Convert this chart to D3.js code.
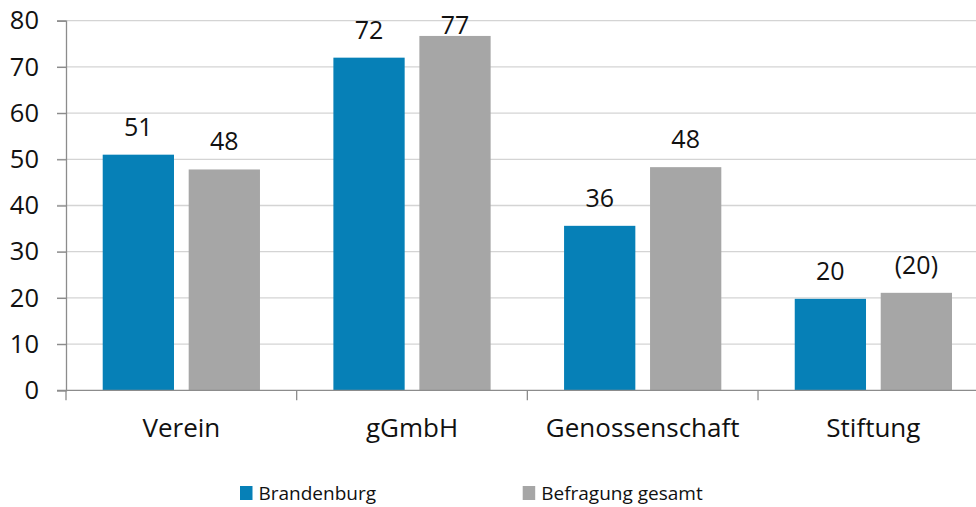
<!DOCTYPE html>
<html>
<head>
<meta charset="utf-8">
<script src="https://cdn.jsdelivr.net/npm/d3@7"></script>
<style>
  body { margin: 0; background: #fff; }
  svg { display: block; font-family: "Open Sans", sans-serif; }
</style>
</head>
<body>
<div id="main"></div>
<script>
// data
var categories = ["Verein", "gGmbH", "Genossenschaft", "Stiftung"];
var series = ["Brandenburg", "Befragung gesamt"];
var brandenburg = [51, 72, 35.6, 19.8];
var gesamt = [47.8, 76.7, 48.3, 21.1];
var brandenburgLabels = ["51", "72", "36", "20"];
var gesamtLabels = ["48", "77", "48", "(20)"];
var yTicks = [0, 10, 20, 30, 40, 50, 60, 70, 80];

var colors = {"Brandenburg": "#0680b7", "Befragung gesamt": "#a6a6a6"};

var width = 976, height = 507;
// plot box (right edge runs past the picture, as in the original crop)
var plotLeft = 66, plotRight = 988.7, plotTop = 20.7, plotBottom = 390.3;

var svg = d3.select("#main").append("svg")
    .attr("width", width)
    .attr("height", height);

var x0 = d3.scaleBand()
    .domain(categories)
    .range([plotLeft, plotRight]);

var x1 = d3.scaleBand()
    .domain(series)
    .range([0, x0.bandwidth()])
    .paddingInner(0.171)
    .paddingOuter(0.427);

var y = d3.scaleLinear()
    .domain([0, 80])
    .range([plotBottom, plotTop]);

// gridlines
svg.append("g")
    .selectAll("line")
    .data(yTicks.filter(function(d) { return d > 0; }))
    .enter().append("line")
    .attr("x1", plotLeft - 9)
    .attr("x2", width)
    .attr("y1", function(d) { return y(d); })
    .attr("y2", function(d) { return y(d); })
    .attr("stroke", "#d4d4d4")
    .attr("stroke-width", 1.3);

// y axis
var yAxis = svg.append("g")
    .attr("transform", "translate(" + plotLeft + ",0)")
    .call(d3.axisLeft(y).tickValues(yTicks).tickSize(9).tickPadding(18));
yAxis.select(".domain").attr("stroke", "#8c8c8c").attr("stroke-width", 1.3);
yAxis.selectAll(".tick line").attr("stroke", "#8c8c8c").attr("stroke-width", 1.3);
yAxis.selectAll("text")
    .attr("font-size", "25.5px")
    .attr("font-family", "Open Sans, sans-serif")
    .attr("fill", "#111");

// bars
var rows = categories.map(function(c, i) {
    return {cat: c, vals: [
        {s: series[0], v: brandenburg[i], label: brandenburgLabels[i]},
        {s: series[1], v: gesamt[i], label: gesamtLabels[i]}
    ]};
});

var groups = svg.append("g")
    .selectAll("g")
    .data(rows)
    .enter().append("g")
    .attr("transform", function(d) { return "translate(" + x0(d.cat) + ",0)"; });

groups.selectAll("rect")
    .data(function(d) { return d.vals; })
    .enter().append("rect")
    .attr("x", function(d) { return x1(d.s); })
    .attr("width", x1.bandwidth())
    .attr("y", function(d) { return y(d.v); })
    .attr("height", function(d) { return plotBottom - y(d.v); })
    .attr("fill", function(d) { return colors[d.s]; });

groups.selectAll("text")
    .data(function(d) { return d.vals; })
    .enter().append("text")
    .attr("x", function(d) { return x1(d.s) + x1.bandwidth() / 2; })
    .attr("y", function(d) { return Math.max(y(d.v) - 19, 33.5); })
    .attr("text-anchor", "middle")
    .attr("font-size", "25px")
    .attr("fill", "#111")
    .text(function(d) { return d.label; });

// x axis
var xAxis = svg.append("g")
    .attr("transform", "translate(0," + plotBottom + ")");
xAxis.append("line")
    .attr("x1", plotLeft - 9)
    .attr("x2", width)
    .attr("stroke", "#8c8c8c")
    .attr("stroke-width", 1.3);
xAxis.selectAll(".sep")
    .data(categories)
    .enter().append("line")
    .attr("class", "sep")
    .attr("x1", function(d) { return x0(d); })
    .attr("x2", function(d) { return x0(d); })
    .attr("y1", 0)
    .attr("y2", 10)
    .attr("stroke", "#8c8c8c")
    .attr("stroke-width", 1.3);
xAxis.selectAll(".cat")
    .data(categories)
    .enter().append("text")
    .attr("class", "cat")
    .attr("x", function(d) { return x0(d) + x0.bandwidth() / 2; })
    .attr("y", 47)
    .attr("text-anchor", "middle")
    .attr("font-size", "26px")
    .attr("fill", "#111")
    .text(function(d) { return d; });

// legend
var legendX = [240, 522.7];
var legend = svg.append("g")
    .selectAll("g")
    .data(series)
    .enter().append("g")
    .attr("transform", function(d, i) { return "translate(" + legendX[i] + ",486)"; });
legend.append("rect")
    .attr("width", 12.5)
    .attr("height", 14)
    .attr("fill", function(d) { return colors[d]; });
legend.append("text")
    .attr("x", 18.5)
    .attr("y", 13.5)
    .attr("font-size", "19px")
    .attr("fill", "#111")
    .text(function(d) { return d; });
</script>
</body>
</html>
